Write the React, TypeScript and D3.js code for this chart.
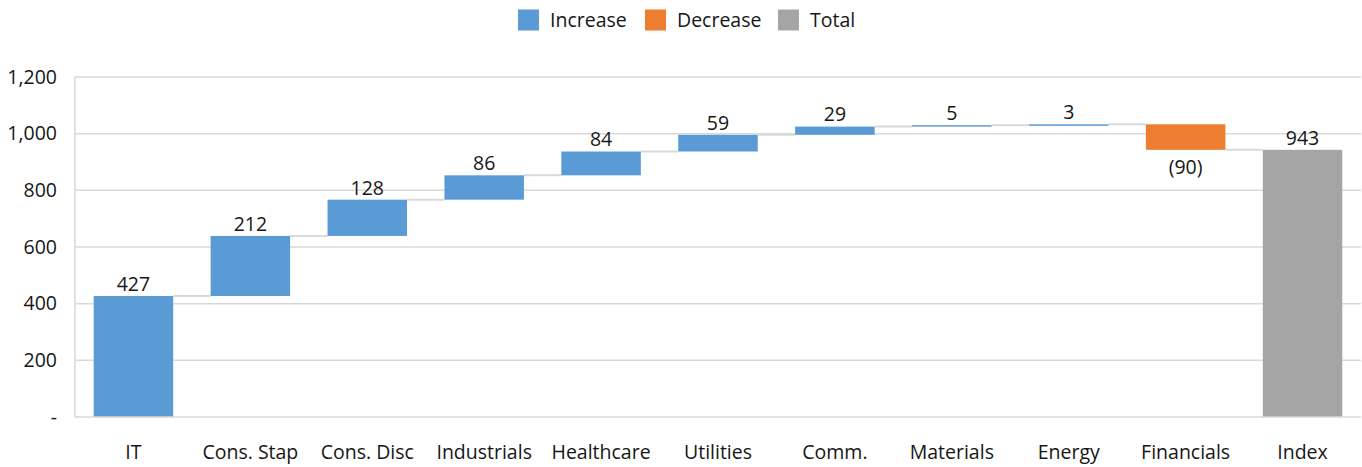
import React from "react";
import * as d3 from "d3";

// Sector contributions to the index (points)
const categories = ["IT", "Cons. Stap", "Cons. Disc", "Industrials", "Healthcare", "Utilities", "Comm.", "Materials", "Energy", "Financials", "Index"];
const changes = [427, 212, 128, 86, 84, 59, 29, 5, 3, -90];
const totalLabel = "Index";
const yTicks = [0, 200, 400, 600, 800, 1000, 1200];
const legendItems = ["Increase", "Decrease", "Total"];

const COLORS: Record<string, string> = { Increase: "#5B9BD5", Decrease: "#ED7D31", Total: "#A5A5A5" };
const FONT = "'Open Sans', 'Noto Sans', sans-serif";
const FS = 19.5;
const INK = "#161616";

type Step = { name: string; start: number; end: number; kind: string; value: number };

export default function App() {
  const width = 1362;
  const height = 467;
  const left = 75;
  const right = 1361;
  const top = 77;
  const bottom = 417;

  // running totals for the waterfall
  const steps: Step[] = [];
  let acc = 0;
  changes.forEach((v, i) => {
    const start = acc;
    acc += v;
    steps.push({ name: categories[i], start, end: acc, kind: v >= 0 ? "Increase" : "Decrease", value: v });
  });
  steps.push({ name: totalLabel, start: 0, end: acc, kind: "Total", value: acc });

  const x = d3.scaleBand<string>().domain(categories).range([left, right]).paddingInner(0.32).paddingOuter(0.16);
  const y = d3.scaleLinear().domain([0, 1200]).range([bottom, top]);
  const fmt = (v: number) => (v === 0 ? "-" : d3.format(",")(v));
  const labelFmt = (v: number) => (v < 0 ? `(${Math.abs(v)})` : String(v));

  const legendX = [518, 645, 778];

  return (
    <svg width={width} height={height} style={{ position: "absolute", left: 0, top: 0, fontFamily: FONT }}>
      <rect width={width} height={height} fill="#fff" />
      {/* legend */}
      {legendItems.map((k, i) => (
        <g key={k}>
          <rect x={legendX[i]} y={9.5} width={21} height={21} fill={COLORS[k]} />
          <text x={legendX[i] + 32} y={20} dy="0.35em" fontSize={FS} fill={INK}>{k}</text>
        </g>
      ))}
      {/* gridlines */}
      {yTicks.map((t) => (
        <g key={t}>
          {t > 0 && <line x1={left} x2={right} y1={y(t)} y2={y(t)} stroke="#D9D9D9" strokeWidth={1.5} />}
          <text x={57} y={y(t)} dy="0.35em" textAnchor="end" fontSize={FS} fill={INK}>{fmt(t)}</text>
        </g>
      ))}
      <line x1={left} x2={left} y1={top} y2={bottom} stroke="#D9D9D9" strokeWidth={1.5} />
      {/* connectors */}
      {steps.slice(0, -1).map((s, i) => {
        const next = steps[i + 1];
        return (
          <line key={"c" + i} x1={x(s.name)! + x.bandwidth()} x2={x(next.name)!} y1={y(s.end)} y2={y(s.end)} stroke="#D9D9D9" strokeWidth={2} />
        );
      })}
      {/* bars */}
      {steps.map((s) => {
        const y0 = y(Math.max(s.start, s.end));
        const y1 = y(Math.min(s.start, s.end));
        return <rect key={s.name} x={x(s.name)} y={y0} width={x.bandwidth()} height={Math.max(1.5, y1 - y0)} fill={COLORS[s.kind]} />;
      })}
      {/* value labels */}
      {steps.map((s) => {
        const cx = x(s.name)! + x.bandwidth() / 2;
        const isNeg = s.value < 0;
        const ly = isNeg ? y(Math.min(s.start, s.end)) + 17 : y(Math.max(s.start, s.end)) - 12;
        return (
          <text key={"l" + s.name} x={cx} y={ly} dy="0.35em" textAnchor="middle" fontSize={FS} fill={INK}>
            {labelFmt(s.value)}
          </text>
        );
      })}
      {/* x axis */}
      <line x1={left} x2={right} y1={bottom} y2={bottom} stroke="#D9D9D9" strokeWidth={1.5} />
      {categories.map((c) => (
        <text key={"x" + c} x={x(c)! + x.bandwidth() / 2} y={452} dy="0.35em" textAnchor="middle" fontSize={FS} fill={INK}>{c}</text>
      ))}
    </svg>
  );
}
